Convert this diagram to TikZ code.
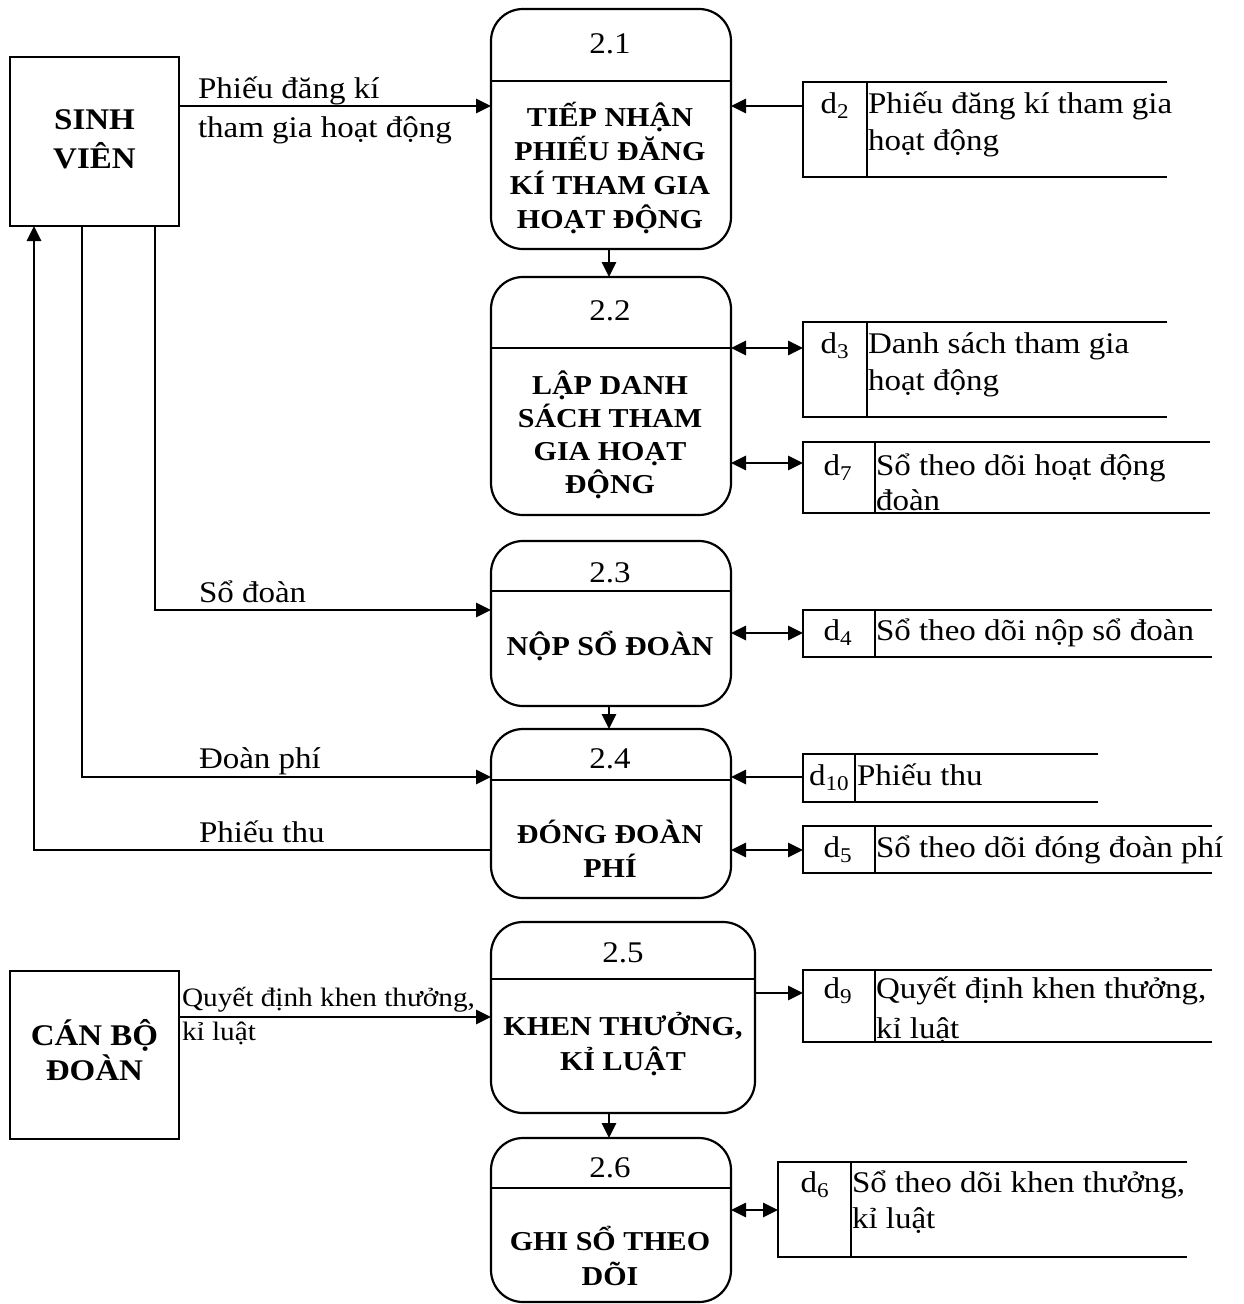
\documentclass[tikz,border=0pt]{standalone}
\usepackage{fontspec}
\setmainfont{Liberation Serif}[FakeStretch=1.1]
\usetikzlibrary{arrows.meta}

% several centred or left-aligned lines whose baseline is the first line
\newcommand\mlines[2]{\begin{tabular}[t]{@{}#1@{}}#2\end{tabular}}

% open-ended data store: name, left, top, right, bottom, divider x
\newcommand\datastore[6]{%
  \node[storeframe, minimum width={#4-#2}, minimum height={#5-#3}, anchor=north west] (#1) at (#2,#3) {};
  \draw[frame] (#1.north east) -- (#1.north west) -- (#1.south west) -- (#1.south east);
  \draw[frame] (#6,#3) -- (#6,#5);
}

\tikzset{
  frame/.style={line width=2.2pt},
  tip/.tip={Triangle[length=15pt,width=14pt]},
  flow/.style={line width=2.7pt, -tip},
  flowboth/.style={line width=2.7pt, tip-tip},
  entity/.style={draw, line width=2.2pt, inner sep=0pt, outer sep=0pt,
    font=\fontsize{30}{39}\selectfont\bfseries},
  process/.style={draw, line width=2.2pt, rounded corners=32pt, inner sep=0pt, outer sep=0pt},
  storeframe/.style={inner sep=0pt, outer sep=0pt},
  txt/.style={inner sep=0pt, outer sep=0pt, font=\fontsize{30}{39}\selectfont},
  smalltxt/.style={inner sep=0pt, outer sep=0pt, font=\fontsize{26.6}{34}\selectfont},
  ptxt/.style={inner sep=0pt, outer sep=0pt, font=\fontsize{27.3}{34}\selectfont\bfseries},
}

\begin{document}
\begin{tikzpicture}[x=1pt, y=-1pt, line join=miter]
\fill[white] (0,0) rectangle (1243,1304);
\useasboundingbox (0,0) rectangle (1243,1304);

% external entities
\node[entity, minimum width=169, minimum height=169] (sv) at (94.5,141.5) {\mlines{c}{SINH\\VIÊN}};
\node[entity, minimum width=169, minimum height=168, font=\fontsize{30}{33}\selectfont\bfseries] (cb) at (94.5,1055) {\mlines{c}{CÁN BỘ\\ĐOÀN}};

% processes
\node[process, minimum width=240, minimum height=240] (p1) at (611,129) {};
\draw[frame] (p1.west |- 0,81) -- (p1.east |- 0,81);
\node[txt, anchor=base] (p1n) at (610,53) {2.1};
\node[ptxt, anchor=base] (p1t) at (610,126) {\mlines{c}{TIẾP NHẬN\\PHIẾU ĐĂNG\\KÍ THAM GIA\\HOẠT ĐỘNG}};

\node[process, minimum width=240, minimum height=238] (p2) at (611,396) {};
\draw[frame] (p2.west |- 0,348) -- (p2.east |- 0,348);
\node[txt, anchor=base] (p2n) at (610,320) {2.2};
\node[ptxt, anchor=base, font=\fontsize{27.3}{33}\selectfont\bfseries] (p2t) at (610,394) {\mlines{c}{LẬP DANH\\SÁCH THAM\\GIA HOẠT\\ĐỘNG}};

\node[process, minimum width=240, minimum height=165] (p3) at (611,623.5) {};
\draw[frame] (p3.west |- 0,591) -- (p3.east |- 0,591);
\node[txt, anchor=base] (p3n) at (610,582) {2.3};
\node[ptxt, anchor=base] (p3t) at (610,655) {NỘP SỔ ĐOÀN};

\node[process, minimum width=240, minimum height=169] (p4) at (611,813.5) {};
\draw[frame] (p4.west |- 0,780) -- (p4.east |- 0,780);
\node[txt, anchor=base] (p4n) at (610,768) {2.4};
\node[ptxt, anchor=base] (p4t) at (610,843) {\mlines{c}{ĐÓNG ĐOÀN\\PHÍ}};

\node[process, minimum width=264, minimum height=191] (p5) at (623,1017.5) {};
\draw[frame] (p5.west |- 0,979) -- (p5.east |- 0,979);
\node[txt, anchor=base] (p5n) at (623,962) {2.5};
\node[ptxt, anchor=base, font=\fontsize{27.3}{35}\selectfont\bfseries] (p5t) at (623,1035) {\mlines{c}{KHEN THƯỞNG,\\KỈ LUẬT}};

\node[process, minimum width=240, minimum height=164] (p6) at (611,1220) {};
\draw[frame] (p6.west |- 0,1188) -- (p6.east |- 0,1188);
\node[txt, anchor=base] (p6n) at (610,1177) {2.6};
\node[ptxt, anchor=base, font=\fontsize{27.3}{35}\selectfont\bfseries] (p6t) at (610,1250) {\mlines{c}{GHI SỔ THEO\\DÕI}};

% data stores
\datastore{d2}{803}{82}{1167}{177}{867}
\node[txt, anchor=base] (d2k) at (835,113) {d\textsubscript{2}};
\node[txt, anchor=base west, font=\fontsize{30}{37}\selectfont] (d2n) at (868,113) {\mlines{l}{Phiếu đăng kí tham gia\\hoạt động}};

\datastore{d3}{803}{322}{1167}{417}{867}
\node[txt, anchor=base] (d3k) at (835,353) {d\textsubscript{3}};
\node[txt, anchor=base west, font=\fontsize{30}{37}\selectfont] (d3n) at (868,353) {\mlines{l}{Danh sách tham gia\\hoạt động}};

\datastore{d7}{803}{442}{1210}{513}{875}
\node[txt, anchor=base] (d7k) at (838,475) {d\textsubscript{7}};
\node[txt, anchor=base west, font=\fontsize{30}{35}\selectfont] (d7n) at (876,475) {\mlines{l}{Sổ theo dõi hoạt động\\đoàn}};

\datastore{d4}{803}{610}{1212}{657}{875}
\node[txt, anchor=base] (d4k) at (838,640) {d\textsubscript{4}};
\node[txt, anchor=base west] (d4n) at (876,640) {Sổ theo dõi nộp sổ đoàn};

\datastore{d10}{803}{754}{1098}{802}{855}
\node[txt, anchor=base west] (d10k) at (809,785) {d\textsubscript{10}};
\node[txt, anchor=base west] (d10n) at (857,785) {Phiếu thu};

\datastore{d5}{803}{826}{1212}{873}{875}
\node[txt, anchor=base] (d5k) at (838,857) {d\textsubscript{5}};
\node[txt, anchor=base west] (d5n) at (876,857) {Sổ theo dõi đóng đoàn phí};

\datastore{d9}{803}{970}{1212}{1042}{875}
\node[txt, anchor=base] (d9k) at (838,998) {d\textsubscript{9}};
\node[txt, anchor=base west, font=\fontsize{30}{40}\selectfont] (d9n) at (876,998) {\mlines{l}{Quyết định khen thưởng,\\kỉ luật}};

\datastore{d6}{778}{1162}{1187}{1257}{851}
\node[txt, anchor=base] (d6k) at (815,1192) {d\textsubscript{6}};
\node[txt, anchor=base west, font=\fontsize{30}{36}\selectfont] (d6n) at (852,1192) {\mlines{l}{Sổ theo dõi khen thưởng,\\kỉ luật}};

% data flows
\draw[flow] (sv.east |- 0,106) -- (p1.west |- 0,106);
\draw[flow] (d2.west |- 0,106) -- (p1.east |- 0,106);
\draw[flow] (p1.south -| 609,0) -- (p2.north -| 609,0);
\draw[flowboth] (p2.east |- 0,348) -- (d3.west |- 0,348);
\draw[flowboth] (p2.east |- 0,463) -- (d7.west |- 0,463);
\draw[flow] (sv.south -| 155,0) |- (p3.west |- 0,610);
\draw[flowboth] (p3.east |- 0,633) -- (d4.west |- 0,633);
\draw[flow] (p3.south -| 609,0) -- (p4.north -| 609,0);
\draw[flow] (sv.south -| 82,0) |- (p4.west |- 0,777);
\draw[flow] (d10.west |- 0,777) -- (p4.east |- 0,777);
\draw[flow] (p4.west |- 0,850) -| (sv.south -| 34,0);
\draw[flowboth] (p4.east |- 0,850) -- (d5.west |- 0,850);
\draw[flow] (cb.east |- 0,1017) -- (p5.west |- 0,1017);
\draw[flow] (p5.east |- 0,993) -- (d9.west |- 0,993);
\draw[flow] (p5.south -| 609,0) -- (p6.north -| 609,0);
\draw[flowboth] (p6.east |- 0,1210) -- (d6.west |- 0,1210);

% flow labels
\node[txt, anchor=base west] (l1) at (198,98) {\mlines{l}{Phiếu đăng kí\\tham gia hoạt động}};
\node[txt, anchor=base west] (l2) at (199,602) {Sổ đoàn};
\node[txt, anchor=base west] (l3) at (199,768) {Đoàn phí};
\node[txt, anchor=base west] (l4) at (199,842) {Phiếu thu};
\node[smalltxt, anchor=base west] (l5) at (182,1006) {\mlines{l}{Quyết định khen thưởng,\\kỉ luật}};
\end{tikzpicture}
\end{document}
